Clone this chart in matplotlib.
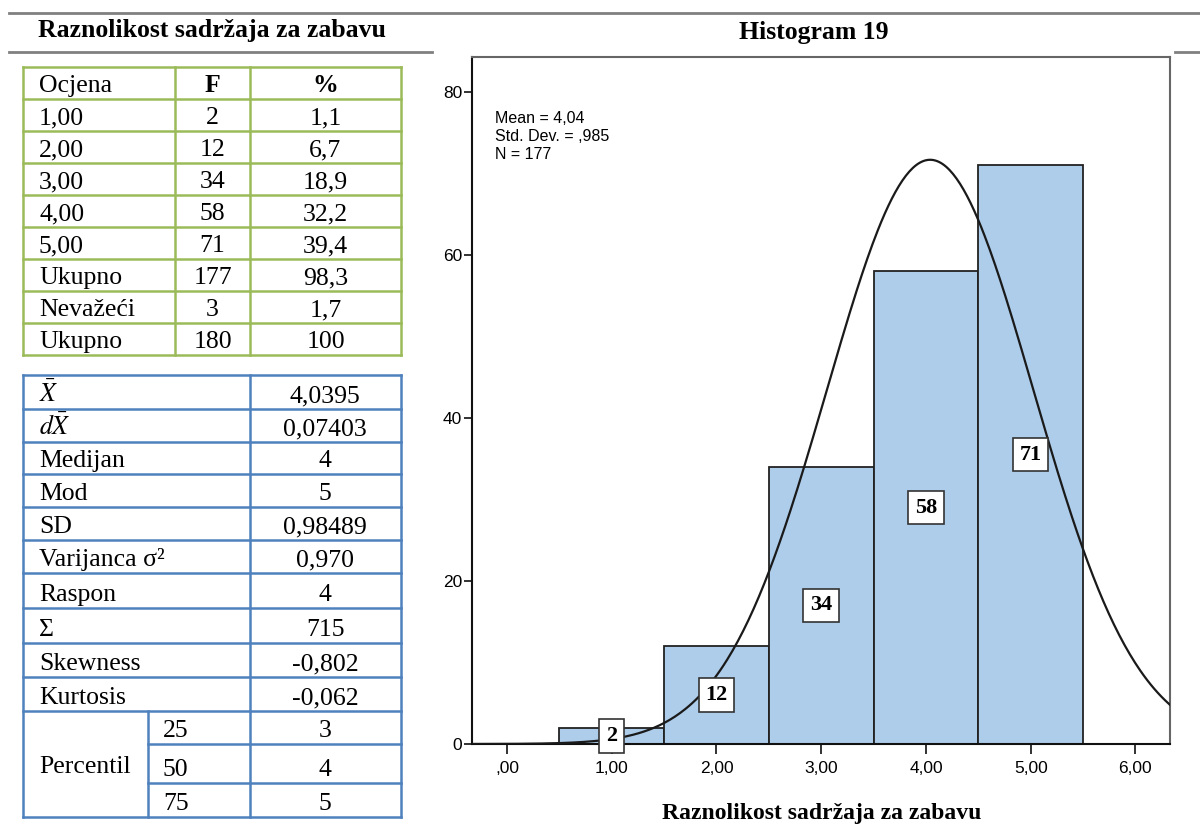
import numpy as np
import matplotlib
matplotlib.use('Agg')
import matplotlib.pyplot as plt

plt.rcParams['font.family'] = ['Liberation Serif', 'DejaVu Serif']
plt.rcParams['mathtext.fontset'] = 'stix'

# podaci
naslov = 'Raznolikost sadržaja za zabavu'
naslov_hist = 'Histogram 19'

zaglavlje = ['Ocjena', 'F', '%']
ocjene = ['1,00', '2,00', '3,00', '4,00', '5,00', 'Ukupno', 'Nevažeći', 'Ukupno']
frekv = ['2', '12', '34', '58', '71', '177', '3', '180']
postotak = ['1,1', '6,7', '18,9', '32,2', '39,4', '98,3', '1,7', '100']

stat_nazivi = [r'$\bar{X}$', r'$d\bar{X}$', 'Medijan', 'Mod', 'SD', 'Varijanca σ²',
               'Raspon', 'Σ', 'Skewness', 'Kurtosis']
stat_vrijednosti = ['4,0395', '0,07403', '4', '5', '0,98489', '0,970', '4', '715',
                    '-0,802', '-0,062']
percentili = ['25', '50', '75']
percentil_vrijednosti = ['3', '4', '5']

hist_x = [1, 2, 3, 4, 5]
hist_f = [2, 12, 34, 58, 71]
mean, sd, n = 4.04, 0.985, 177
x_ticks = [0, 1, 2, 3, 4, 5, 6]
x_oznake = [',00', '1,00', '2,00', '3,00', '4,00', '5,00', '6,00']
y_ticks = [0, 20, 40, 60, 80]
legenda = ['Mean = 4,04', 'Std. Dev. = ,985', 'N = 177']

# stilovi
FS = 18.5
ZELENA = '#9BBB59'
PLAVA = '#4F81BD'
SIVA = '#808080'
STUPAC = '#AECDEB'

fig = plt.figure(figsize=(12, 8.3), dpi=100)
bg = fig.add_axes([0, 0, 1, 1])
bg.set_xlim(0, 1200)
bg.set_ylim(830, 0)
bg.axis('off')

# linije zaglavlja
bg.plot([9, 1200], [13, 13], color=SIVA, lw=2)
bg.plot([9, 432], [52, 52], color=SIVA, lw=2)
bg.plot([1175, 1200], [52, 52], color=SIVA, lw=2)
bg.text(212, 31, naslov, ha='center', va='center', fontsize=FS, fontweight='bold')
bg.text(814, 32, naslov_hist, ha='center', va='center', fontsize=FS, fontweight='bold')

# zelena tablica
gx = [23, 175, 250, 401]
gy = np.linspace(67, 355, 10)
for y in gy:
    bg.plot([gx[0], gx[-1]], [y, y], color=ZELENA, lw=1.8, solid_capstyle='projecting')
for x in gx:
    bg.plot([x, x], [gy[0], gy[-1]], color=ZELENA, lw=1.8, solid_capstyle='projecting')

redovi = [zaglavlje] + [[a, b, c] for a, b, c in zip(ocjene, frekv, postotak)]
for i, (a, b, c) in enumerate(redovi):
    yb = gy[i + 1] - 7
    bold = 'bold' if i == 0 else 'normal'
    bg.text(39, yb, a, ha='left', va='baseline', fontsize=FS)
    bg.text((gx[1] + gx[2]) / 2, yb, b, ha='center', va='baseline', fontsize=FS, fontweight=bold)
    bg.text((gx[2] + gx[3]) / 2, yb, c, ha='center', va='baseline', fontsize=FS, fontweight=bold)

# plava tablica
by = [375, 409, 442, 474, 507, 540, 573, 608, 643, 677, 711, 744, 783, 817]
for j, y in enumerate(by):
    x0 = 148 if y in (744, 783) else 23
    bg.plot([x0, 401], [y, y], color=PLAVA, lw=1.8, solid_capstyle='projecting')
for x in (23, 250, 401):
    bg.plot([x, x], [by[0], by[-1]], color=PLAVA, lw=1.8, solid_capstyle='projecting')
bg.plot([148, 148], [711, 817], color=PLAVA, lw=1.8, solid_capstyle='projecting')

for i, (a, b) in enumerate(zip(stat_nazivi, stat_vrijednosti)):
    yb = by[i + 1] - 7
    bg.text(39, yb, a, ha='left', va='baseline', fontsize=FS)
    bg.text(325, yb, b, ha='center', va='baseline', fontsize=FS)
for k, (p, v) in enumerate(zip(percentili, percentil_vrijednosti)):
    yb = by[len(stat_nazivi) + k + 1] - 7
    bg.text(163, yb, p, ha='left', va='baseline', fontsize=FS)
    bg.text(325, yb, v, ha='center', va='baseline', fontsize=FS)
bg.text(39, 773, 'Percentil', ha='left', va='baseline', fontsize=FS)

# histogram
ax = fig.add_axes([472 / 1200, 1 - 744 / 830, (1170 - 472) / 1200, (744 - 57) / 830])
ax.bar(hist_x, hist_f, width=1, color=STUPAC, edgecolor='#222222', linewidth=1.3, zorder=2)
ax.set_xlim(-0.334, 6.33)
ax.set_ylim(0, 84.3)

xs = np.linspace(-0.334, 6.33, 400)
ys = n * 1.0 / (sd * np.sqrt(2 * np.pi)) * np.exp(-0.5 * ((xs - mean) / sd) ** 2)
ax.plot(xs, ys, color='#1a1a1a', lw=1.6, zorder=3, clip_on=True)

for x, f in zip(hist_x, hist_f):
    ax.text(x, f / 2, str(f), ha='center', va='center', fontsize=16, fontweight='bold',
            zorder=4, bbox=dict(boxstyle='square,pad=0.3', fc='white', ec='#333333', lw=1.2))

ax.set_xticks(x_ticks)
ax.set_xticklabels(x_oznake, family='Liberation Sans', fontsize=12.5)
ax.set_yticks(y_ticks)
ax.set_yticklabels([str(v) for v in y_ticks], family='Liberation Sans', fontsize=12.5)
ax.tick_params(axis='x', direction='out', length=7.5, width=1.3, pad=5, color='#222222')
ax.tick_params(axis='y', direction='out', length=5.5, width=1.3, pad=1.5, color='#222222')
for s in ('left', 'bottom'):
    ax.spines[s].set_color('#111111')
    ax.spines[s].set_linewidth(1.5)
for s in ('top', 'right'):
    ax.spines[s].set_color('#666666')
    ax.spines[s].set_linewidth(1.5)

ax.text(0.033, 0.922, '\n'.join(legenda), transform=ax.transAxes, ha='left', va='top',
        family='Liberation Sans', fontsize=11.5, linespacing=1.25)

bg.text(822, 813, naslov, ha='center', va='center', fontsize=17, fontweight='bold')

fig.savefig('out.png', dpi=100)
